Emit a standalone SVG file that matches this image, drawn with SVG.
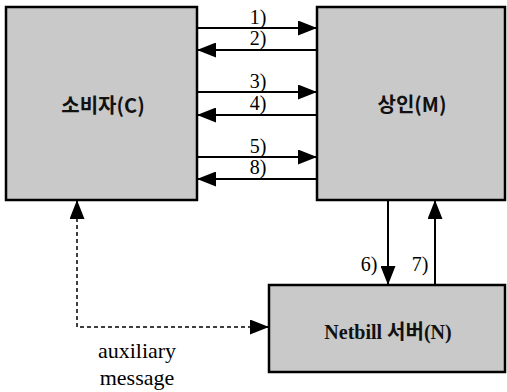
<svg xmlns="http://www.w3.org/2000/svg" width="507" height="392" viewBox="0 0 507 392">
<style>
.box{fill:#c9c9c9;stroke:#000;stroke-width:2.5}
.lbl{font-family:"Noto Sans CJK KR","Liberation Sans",sans-serif;font-weight:bold;font-size:20px;fill:#111;text-anchor:middle}
.nlbl{font-family:"Liberation Serif","Noto Sans CJK KR",serif;font-weight:bold;font-size:20px;fill:#111;text-anchor:middle}
.num{font-family:"Liberation Serif",serif;font-size:20px;fill:#000;text-anchor:middle}
.cap{font-family:"Liberation Serif",serif;font-size:22px;fill:#000;text-anchor:middle}
.ln{stroke:#000;stroke-width:2;fill:none}
.dash{stroke:#000;stroke-width:1.5;fill:none;stroke-dasharray:4,3}
</style>
<defs>
<marker id="ah" viewBox="0 0 19 15" refX="19" refY="7.5" markerWidth="19" markerHeight="15" markerUnits="userSpaceOnUse" orient="auto">
<path d="M0,0 L19,7.5 L0,15 Z" fill="#000"/>
</marker>
</defs>
<g id="consumer">
<rect class="box" x="6" y="7" width="191" height="193"/>
<text class="lbl" x="103" y="113">소비자(C)</text>
</g>
<g id="merchant">
<rect class="box" x="317" y="7" width="188" height="193"/>
<text class="lbl" x="412" y="112">상인(M)</text>
</g>
<g id="netbill">
<rect class="box" x="269" y="285" width="236" height="87"/>
<text class="nlbl" x="388" y="339">Netbill 서버(N)</text>
</g>
<g id="connectors">
<line class="ln" x1="197" y1="28" x2="317" y2="28" marker-end="url(#ah)"/>
<line class="ln" x1="317" y1="50" x2="197" y2="50" marker-end="url(#ah)"/>
<line class="ln" x1="197" y1="92" x2="317" y2="92" marker-end="url(#ah)"/>
<line class="ln" x1="317" y1="115" x2="197" y2="115" marker-end="url(#ah)"/>
<line class="ln" x1="197" y1="157" x2="317" y2="157" marker-end="url(#ah)"/>
<line class="ln" x1="317" y1="179" x2="197" y2="179" marker-end="url(#ah)"/>
<line class="ln" x1="388" y1="200" x2="388" y2="285" marker-end="url(#ah)"/>
<line class="ln" x1="435" y1="285" x2="435" y2="200" marker-end="url(#ah)"/>
<path class="dash" d="M77,218 L77,327 L252,327"/>
<line class="ln" x1="77" y1="215" x2="77" y2="200" marker-end="url(#ah)"/>
<line class="ln" x1="255" y1="327" x2="269" y2="327" marker-end="url(#ah)"/>
<text class="num" x="258" y="24">1)</text>
<text class="num" x="258" y="45">2)</text>
<text class="num" x="258" y="88">3)</text>
<text class="num" x="258" y="110">4)</text>
<text class="num" x="258" y="153">5)</text>
<text class="num" x="258" y="174">8)</text>
<text class="num" x="369" y="271">6)</text>
<text class="num" x="420" y="271">7)</text>
</g>
<text class="cap" x="137" y="358">auxiliary</text>
<text class="cap" x="137" y="385">message</text>
</svg>
